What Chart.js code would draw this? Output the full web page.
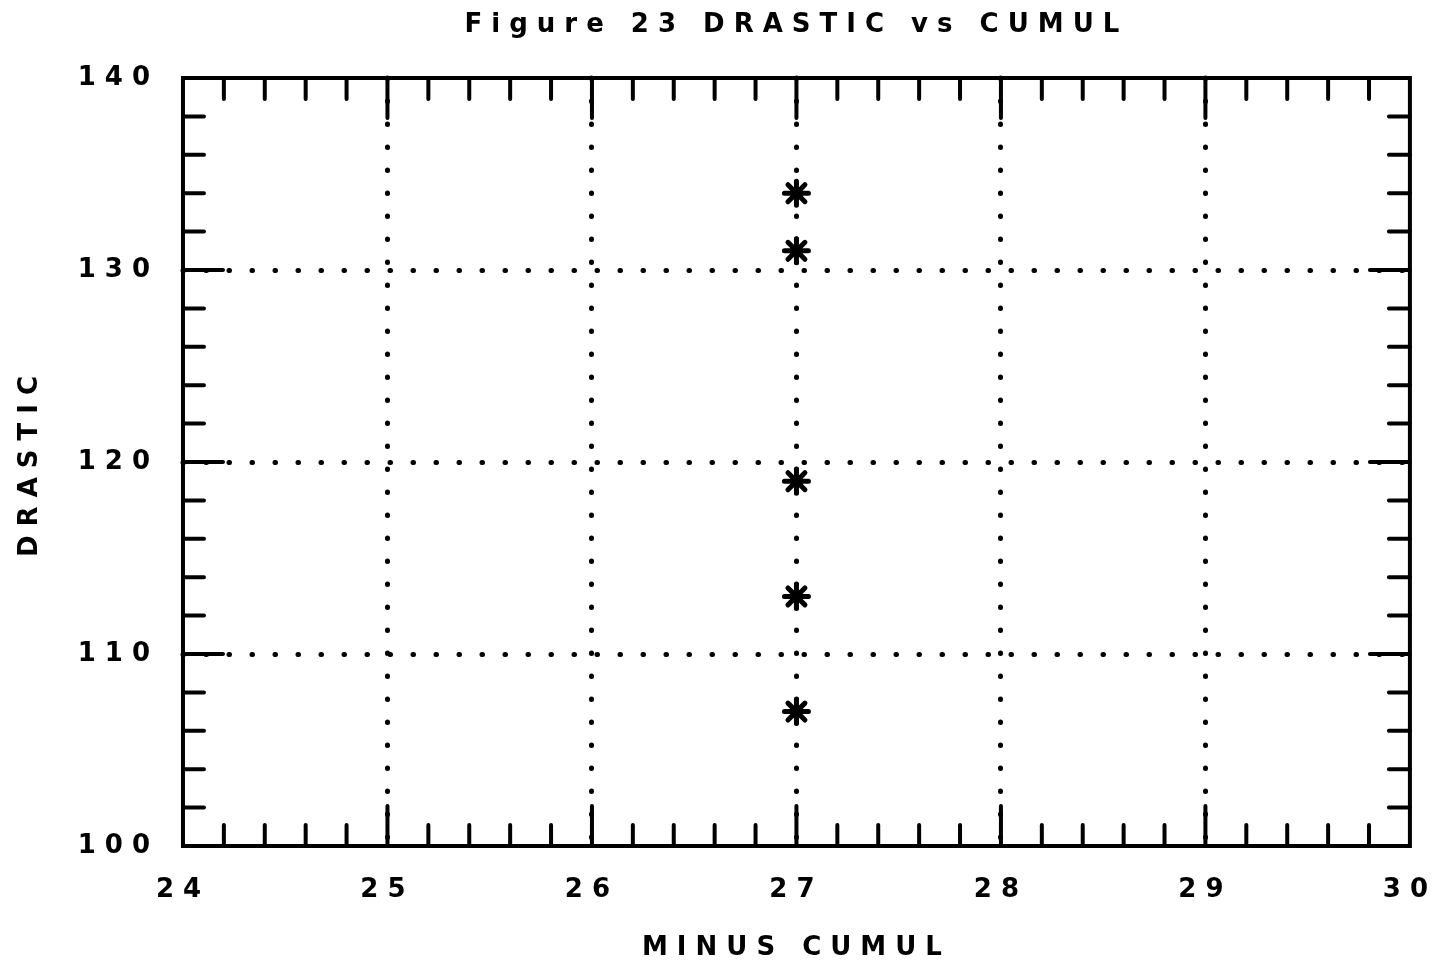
<!DOCTYPE html>
<html>
<head>
<meta charset="utf-8">
<script src="https://cdn.jsdelivr.net/npm/chart.js@4.4.1/dist/chart.umd.min.js"></script>
<style>
  html, body { margin: 0; padding: 0; background: #fff; }
  canvas { display: block; }
</style>
</head>
<body>
<canvas id="chart" width="1437" height="968"></canvas>
<script>
// Datas
const cumul = [27, 27, 27, 27, 27];
const drastic = [134, 131, 119, 113, 107];
const xTicks = [24, 25, 26, 27, 28, 29, 30];
const yTicks = [100, 110, 120, 130, 140];
const xMinor = 0.2;
const yMinor = 2;

const family = "'DejaVu Sans', sans-serif";
const font = { family: family, size: 26, weight: 'bold' };
const xTickFont = { family: family, size: 26, weight: 'bold', lineHeight: 88 / 26 };
const axisFont = { family: family, size: 26, weight: 'bold', lineHeight: 1 };
const spacing = '9px';

// hide grid at the frame edges
function gridColor(list) {
  return ctx => (ctx.index === 0 || ctx.index === list.length - 1) ? 'rgba(0,0,0,0)' : '#000';
}

// plotter look: spaced letters, round dots, frame, inner ticks
const plotter = {
  id: 'plotter',
  beforeLayout(chart) { chart.ctx.letterSpacing = spacing; },
  beforeDraw(chart) {
    chart.ctx.letterSpacing = spacing;
    chart.ctx.lineCap = 'round';
  },
  afterDatasetsDraw(chart) {
    const { ctx, chartArea: a, scales: { x, y } } = chart;
    ctx.save();
    ctx.strokeStyle = '#000';
    ctx.lineWidth = 4;
    ctx.lineCap = 'round';
    ctx.setLineDash([]);
    ctx.beginPath();
    const nx = Math.round((x.max - x.min) / xMinor);
    for (let i = 1; i < nx; i++) {
      const px = x.getPixelForValue(x.min + i * xMinor);
      const len = i % 5 === 0 ? 40 : 21;
      ctx.moveTo(px, a.top); ctx.lineTo(px, a.top + len);
      ctx.moveTo(px, a.bottom); ctx.lineTo(px, a.bottom - len);
    }
    const ny = Math.round((y.max - y.min) / yMinor);
    for (let i = 1; i < ny; i++) {
      const py = y.getPixelForValue(y.min + i * yMinor);
      const len = i % 5 === 0 ? 40 : 21;
      ctx.moveTo(a.left, py); ctx.lineTo(a.left + len, py);
      ctx.moveTo(a.right, py); ctx.lineTo(a.right - len, py);
    }
    ctx.stroke();
    ctx.lineCap = 'butt';
    ctx.strokeRect(a.left, a.top, a.right - a.left, a.bottom - a.top);
    ctx.restore();
  }
};

Chart.defaults.color = '#000';

const data = {
  datasets: [{
    data: cumul.map((v, i) => ({ x: v, y: drastic[i] })),
    pointStyle: 'star',
    pointRadius: 12,
    borderWidth: 5,
    borderColor: '#000',
    backgroundColor: '#000'
  }]
};

const options = {
  responsive: false,
  animation: false,
  layout: { padding: 0 },
  scales: {
    x: {
      type: 'linear',
      min: 24,
      max: 30,
      afterBuildTicks: s => { s.ticks = xTicks.map(v => ({ value: v })); },
      ticks: { font: xTickFont, padding: 0, maxRotation: 0, autoSkip: false },
      grid: { color: gridColor(xTicks), lineWidth: 5, drawTicks: false },
      border: { display: false, dash: [0.5, 22.5] },
      title: { display: true, text: 'MINUS CUMUL', font: axisFont, padding: { top: 1, bottom: 7 } }
    },
    y: {
      type: 'linear',
      min: 100,
      max: 140,
      afterBuildTicks: s => { s.ticks = yTicks.map(v => ({ value: v })); },
      ticks: { font: font, padding: 24, autoSkip: false },
      grid: { color: gridColor(yTicks), lineWidth: 5, drawTicks: false },
      border: { display: false, dash: [0.5, 22.5] },
      title: { display: true, text: 'DRASTIC', font: axisFont, padding: { top: 17, bottom: 10.7 } }
    }
  },
  plugins: {
    legend: { display: false },
    tooltip: { enabled: false },
    title: {
      display: true,
      fullSize: false,
      text: 'Figure 23 DRASTIC vs CUMUL',
      font: font,
      padding: { top: 9.4, bottom: 37.4 }
    }
  }
};

// Initialisation
const ctx = document.getElementById('chart').getContext('2d');
const chart = new Chart(ctx, {
  type: 'scatter',
  data: data,
  options: options,
  plugins: [plotter]
});
</script>
</body>
</html>
